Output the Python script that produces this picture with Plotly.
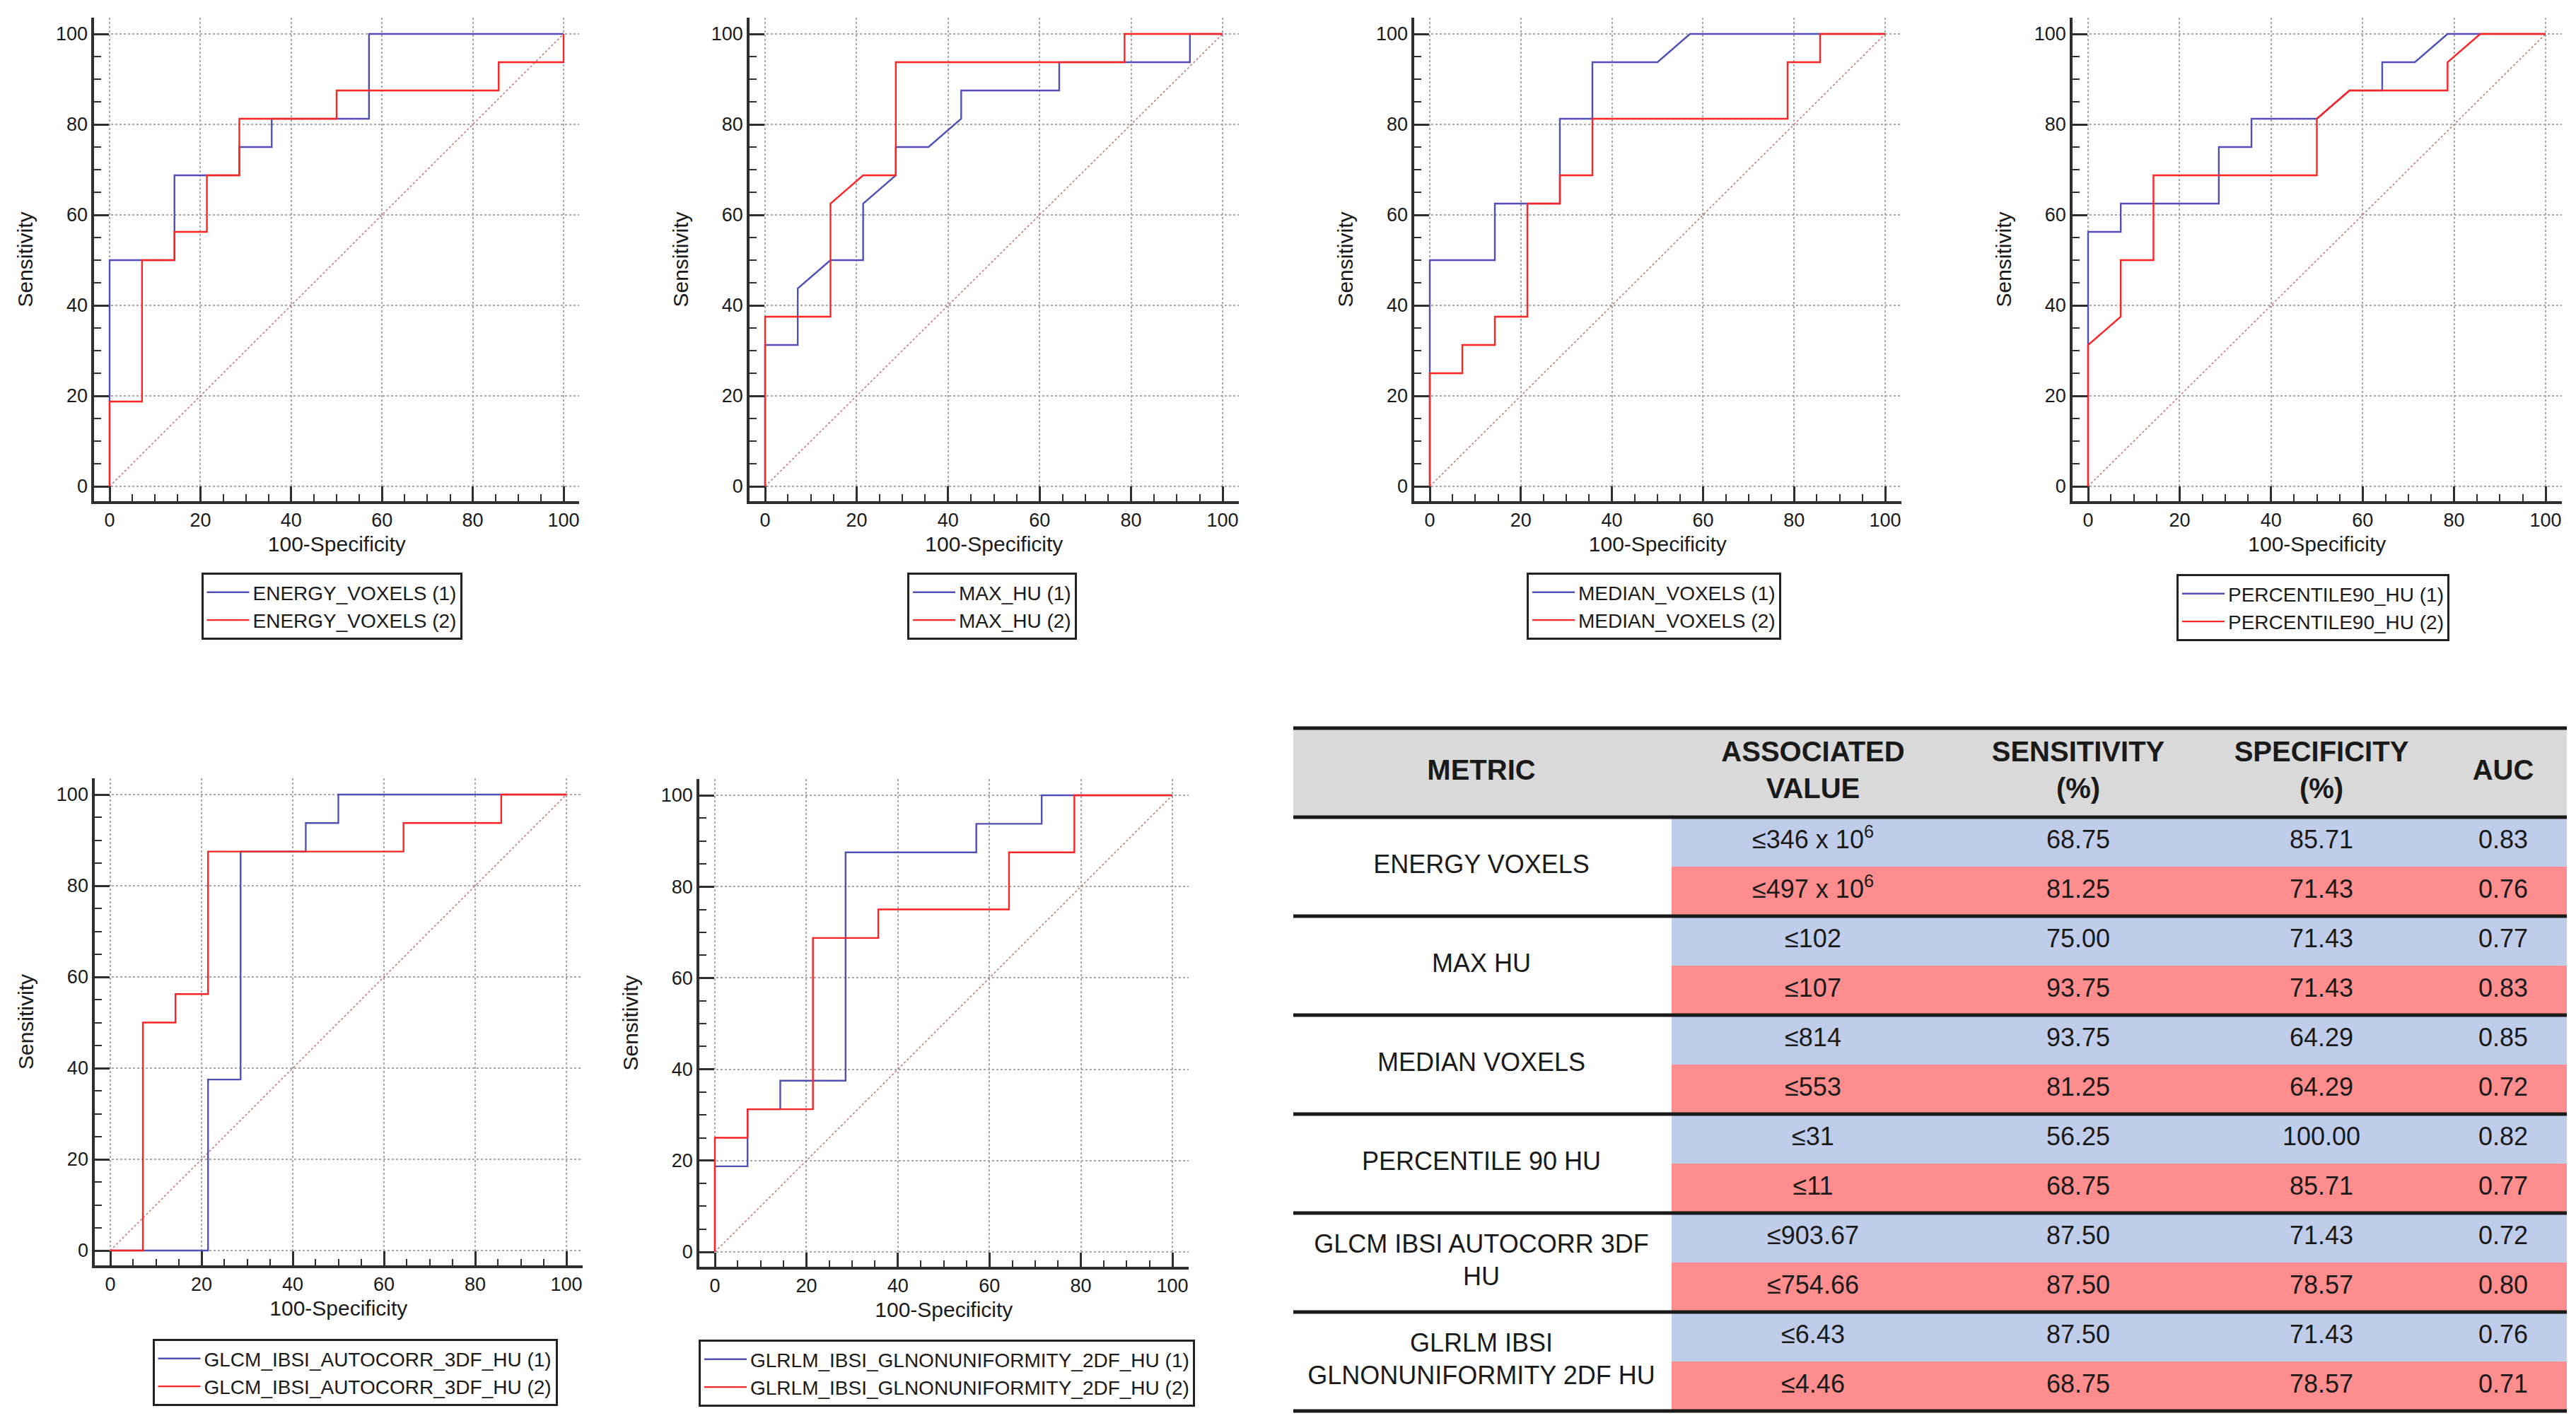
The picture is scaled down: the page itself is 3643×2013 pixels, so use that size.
import plotly.graph_objects as go

W, H = 3643, 2013
FONT = "Liberation Sans, Arial, sans-serif"

# ---------------- ROC data (x = 100-Specificity, y = Sensitivity) ----------------
DIAG = [0, 100]

ENERGY_1_X = [0, 0, 14.29, 14.29, 28.57, 28.57, 35.71, 35.71, 57.14, 57.14, 100]
ENERGY_1_Y = [0, 50, 50, 68.75, 68.75, 75, 75, 81.25, 81.25, 100, 100]
ENERGY_2_X = [0, 0, 7.14, 7.14, 14.29, 14.29, 21.43, 21.43, 28.57, 28.57, 50, 50, 85.71, 85.71, 100, 100]
ENERGY_2_Y = [0, 18.75, 18.75, 50, 50, 56.25, 56.25, 68.75, 68.75, 81.25, 81.25, 87.5, 87.5, 93.75, 93.75, 100]

MAX_1_X = [0, 0, 7.14, 7.14, 14.29, 21.43, 21.43, 28.57, 28.57, 35.71, 42.86, 42.86, 64.29, 64.29, 92.86, 92.86, 100]
MAX_1_Y = [0, 31.25, 31.25, 43.75, 50, 50, 62.5, 68.75, 75, 75, 81.25, 87.5, 87.5, 93.75, 93.75, 100, 100]
MAX_2_X = [0, 0, 14.29, 14.29, 21.43, 28.57, 28.57, 78.57, 78.57, 100]
MAX_2_Y = [0, 37.5, 37.5, 62.5, 68.75, 68.75, 93.75, 93.75, 100, 100]

MEDIAN_1_X = [0, 0, 14.29, 14.29, 28.57, 28.57, 35.71, 35.71, 50, 57.14, 100]
MEDIAN_1_Y = [0, 50, 50, 62.5, 62.5, 81.25, 81.25, 93.75, 93.75, 100, 100]
MEDIAN_2_X = [0, 0, 7.14, 7.14, 14.29, 14.29, 21.43, 21.43, 28.57, 28.57, 35.71, 35.71, 78.57, 78.57, 85.71, 85.71, 100]
MEDIAN_2_Y = [0, 25, 25, 31.25, 31.25, 37.5, 37.5, 62.5, 62.5, 68.75, 68.75, 81.25, 81.25, 93.75, 93.75, 100, 100]

P90_1_X = [0, 0, 7.14, 7.14, 28.57, 28.57, 35.71, 35.71, 50, 57.14, 64.29, 64.29, 71.43, 78.57, 100]
P90_1_Y = [0, 56.25, 56.25, 62.5, 62.5, 75, 75, 81.25, 81.25, 87.5, 87.5, 93.75, 93.75, 100, 100]
P90_2_X = [0, 0, 7.14, 7.14, 14.29, 14.29, 50, 50, 57.14, 78.57, 78.57, 85.71, 100]
P90_2_Y = [0, 31.25, 37.5, 50, 50, 68.75, 68.75, 81.25, 87.5, 87.5, 93.75, 100, 100]

GLCM_1_X = [0, 21.43, 21.43, 28.57, 28.57, 42.86, 42.86, 50, 50, 100]
GLCM_1_Y = [0, 0, 37.5, 37.5, 87.5, 87.5, 93.75, 93.75, 100, 100]
GLCM_2_X = [0, 7.14, 7.14, 14.29, 14.29, 21.43, 21.43, 64.29, 64.29, 85.71, 85.71, 100]
GLCM_2_Y = [0, 0, 50, 50, 56.25, 56.25, 87.5, 87.5, 93.75, 93.75, 100, 100]

GLRLM_1_X = [0, 0, 7.14, 7.14, 14.29, 14.29, 28.57, 28.57, 57.14, 57.14, 71.43, 71.43, 100]
GLRLM_1_Y = [0, 18.75, 18.75, 31.25, 31.25, 37.5, 37.5, 87.5, 87.5, 93.75, 93.75, 100, 100]
GLRLM_2_X = [0, 0, 7.14, 7.14, 21.43, 21.43, 35.71, 35.71, 64.29, 64.29, 78.57, 78.57, 100]
GLRLM_2_Y = [0, 25, 25, 31.25, 31.25, 68.75, 68.75, 75, 75, 87.5, 87.5, 100, 100]

PANEL_NAMES = ["ENERGY_VOXELS", "MAX_HU", "MEDIAN_VOXELS", "PERCENTILE90_HU",
               "GLCM_IBSI_AUTOCORR_3DF_HU", "GLRLM_IBSI_GLNONUNIFORMITY_2DF_HU"]
PANEL_CURVES = [
    (ENERGY_1_X, ENERGY_1_Y, ENERGY_2_X, ENERGY_2_Y),
    (MAX_1_X, MAX_1_Y, MAX_2_X, MAX_2_Y),
    (MEDIAN_1_X, MEDIAN_1_Y, MEDIAN_2_X, MEDIAN_2_Y),
    (P90_1_X, P90_1_Y, P90_2_X, P90_2_Y),
    (GLCM_1_X, GLCM_1_Y, GLCM_2_X, GLCM_2_Y),
    (GLRLM_1_X, GLRLM_1_Y, GLRLM_2_X, GLRLM_2_Y),
]
X_TICKS = [0, 20, 40, 60, 80, 100]
Y_TICKS = [0, 20, 40, 60, 80, 100]

# ---------------- Table data ----------------
TABLE_HEADERS = ["<b>METRIC</b>", "<b>ASSOCIATED<br>VALUE</b>", "<b>SENSITIVITY<br>(%)</b>",
                 "<b>SPECIFICITY<br>(%)</b>", "<b>AUC</b>"]
METRICS = ["ENERGY VOXELS", "MAX HU", "MEDIAN VOXELS", "PERCENTILE 90 HU",
           "GLCM IBSI AUTOCORR 3DF<br>HU", "GLRLM IBSI<br>GLNONUNIFORMITY 2DF HU"]
ASSOC = ["≤346 x 10<sup>6</sup>", "≤497 x 10<sup>6</sup>", "≤102", "≤107", "≤814", "≤553",
         "≤31", "≤11", "≤903.67", "≤754.66", "≤6.43", "≤4.46"]
SENS = ["68.75", "81.25", "75.00", "93.75", "93.75", "81.25", "56.25", "68.75", "87.50", "87.50", "87.50", "68.75"]
SPEC = ["85.71", "71.43", "71.43", "71.43", "64.29", "64.29", "100.00", "85.71", "71.43", "78.57", "71.43", "78.57"]
AUC = ["0.83", "0.76", "0.77", "0.83", "0.85", "0.72", "0.82", "0.77", "0.72", "0.80", "0.76", "0.71"]

# ---------------- Layout constants (pixels) ----------------
BLUE = "#5050b4"
RED = "#ff2424"
DIAG_COLOR = "#c47878"
AXIS_COLOR = "#2e2e2e"
XR = [-3.4, 103.5]
YR = [-3.3, 103.6]
# (pixel of x=0, pixel of x=100, pixel of y=100, pixel of y=0)
POS = [(155, 797, 48, 688), (1082, 1729, 48, 688), (2022, 2666, 48, 688), (2953, 3600, 48, 688),
       (156, 801, 1124, 1769), (1011, 1658, 1125, 1771)]
LEG_CX = [469, 1403, 2339, 3271, 502, 1339]
LEG_TOP = [810, 810, 810, 812, 1894, 1895]

fig = go.Figure()
layout = dict(width=W, height=H, margin=dict(l=0, r=0, t=0, b=0),
              paper_bgcolor="white", plot_bgcolor="white",
              font=dict(family=FONT, color="#1a1a1a"), shapes=[])

for i, (name, curves) in enumerate(zip(PANEL_NAMES, PANEL_CURVES)):
    k = i + 1
    xa, ya = ("x" if k == 1 else f"x{k}"), ("y" if k == 1 else f"y{k}")
    lg = "legend" if k == 1 else f"legend{k}"
    x0p, x100p, y100p, y0p = POS[i]
    ppx = (x100p - x0p) / 100.0
    ppy = (y0p - y100p) / 100.0
    left = x0p + XR[0] * ppx
    right = x0p + XR[1] * ppx
    top = y100p - (YR[1] - 100) * ppy
    bottom = y0p - YR[0] * ppy
    axis_common = dict(
        showline=True, linecolor=AXIS_COLOR, linewidth=3.5, mirror=False,
        ticks="inside", ticklen=21, tickwidth=3, tickcolor=AXIS_COLOR,
        showgrid=True, gridcolor="#a8a8a8", gridwidth=1.5, griddash="dot",
        zeroline=False, tickfont=dict(size=27, family=FONT, color="#1a1a1a"),
        minor=dict(dtick=5, tick0=0, ticks="inside", ticklen=10, tickwidth=2,
                   tickcolor=AXIS_COLOR, showgrid=False),
        fixedrange=True,
    )
    layout[("xaxis" if k == 1 else f"xaxis{k}")] = dict(
        axis_common, domain=[left / W, right / W], range=XR, tickmode="array",
        tickvals=X_TICKS, anchor=ya,
        title=dict(text="100-Specificity", font=dict(size=30, family=FONT), standoff=10))
    layout[("yaxis" if k == 1 else f"yaxis{k}")] = dict(
        axis_common, domain=[1 - bottom / H, 1 - top / H], range=YR, tickmode="array",
        tickvals=Y_TICKS, anchor=xa,
        title=dict(text="Sensitivity", font=dict(size=30, family=FONT), standoff=24))
    layout[lg] = dict(x=LEG_CX[i] / W, y=1 - LEG_TOP[i] / H, xref="paper", yref="paper",
                      xanchor="center", yanchor="top", bgcolor="white",
                      bordercolor="#222222", borderwidth=3, traceorder="normal",
                      font=dict(size=28, family=FONT, color="#1a1a1a"),
                      itemwidth=60, tracegroupgap=0)

    bx, by, rx, ry = curves
    fig.add_trace(go.Scatter(x=DIAG, y=DIAG, mode="lines", xaxis=xa, yaxis=ya,
                             line=dict(color=DIAG_COLOR, width=1.6, dash="dot"),
                             showlegend=False, hoverinfo="skip"))
    fig.add_trace(go.Scatter(x=bx, y=by, mode="lines", xaxis=xa, yaxis=ya, name=f"{name} (1)",
                             line=dict(color=BLUE, width=2.4), legend=lg))
    fig.add_trace(go.Scatter(x=rx, y=ry, mode="lines", xaxis=xa, yaxis=ya, name=f"{name} (2)",
                             line=dict(color=RED, width=2.4), legend=lg))

# ---------------- Table (drawn on hidden axes x7/y7, y in sub-row units) ----------------
T_LEFT, T_RIGHT = 1829, 3630
T_TOP, HDR_BOTTOM, ROW_H = 1030, 1156, 70
N_SUB = len(SENS)
TW = T_RIGHT - T_LEFT
MCOL_W = 2364 - T_LEFT
COL_CX = [266, 735, 1110, 1454, 1711]
HDR = (HDR_BOTTOM - T_TOP) / ROW_H
PAD = 4.0 / ROW_H
t_bottom = HDR_BOTTOM + N_SUB * ROW_H

layout["xaxis7"] = dict(domain=[(T_LEFT - 3) / W, (T_RIGHT + 3) / W], range=[-3, TW + 3],
                        visible=False, fixedrange=True, anchor="y7")
layout["yaxis7"] = dict(domain=[1 - (t_bottom + 4) / H, 1 - (T_TOP - 4) / H],
                        range=[N_SUB + PAD, -HDR - PAD], visible=False, fixedrange=True, anchor="x7")

shp = layout["shapes"]
shp.append(dict(type="rect", xref="x7", yref="y7", x0=0, x1=TW, y0=-HDR, y1=0,
                fillcolor="#d9d9d9", line=dict(width=0), layer="below"))
for r in range(N_SUB):
    shp.append(dict(type="rect", xref="x7", yref="y7", x0=MCOL_W, x1=TW, y0=r, y1=r + 1,
                    fillcolor="#bfcdeb" if r % 2 == 0 else "#ff8d8d", line=dict(width=0), layer="below"))
for yl in [-HDR] + list(range(0, N_SUB + 1, 2)):
    shp.append(dict(type="line", xref="x7", yref="y7", x0=0, x1=TW, y0=yl, y1=yl,
                    line=dict(color="#1a1a1a", width=5)))

# header text
fig.add_trace(go.Scatter(x=COL_CX, y=[-HDR / 2] * len(TABLE_HEADERS), text=TABLE_HEADERS,
                         mode="text", xaxis="x7", yaxis="y7", showlegend=False, hoverinfo="skip",
                         textfont=dict(size=40, family=FONT, color="#1a1a1a"), cliponaxis=False))
# metric names
fig.add_trace(go.Scatter(x=[COL_CX[0]] * len(METRICS), y=[2 * g + 1 for g in range(len(METRICS))],
                         text=METRICS, mode="text", xaxis="x7", yaxis="y7", showlegend=False,
                         hoverinfo="skip", textfont=dict(size=36, family=FONT, color="#1a1a1a"),
                         cliponaxis=False))
# value cells
cx, cy, ct = [], [], []
for col, vals in zip(COL_CX[1:], [ASSOC, SENS, SPEC, AUC]):
    for r, v in enumerate(vals):
        cx.append(col)
        cy.append(r + 0.5)
        ct.append(v)
fig.add_trace(go.Scatter(x=cx, y=cy, text=ct, mode="text", xaxis="x7", yaxis="y7",
                         showlegend=False, hoverinfo="skip",
                         textfont=dict(size=36, family=FONT, color="#1a1a1a"), cliponaxis=False))

fig.update_layout(**layout)
fig.write_html("out.html", config={"displayModeBar": False},
               post_script="document.body.style.margin='0';")
